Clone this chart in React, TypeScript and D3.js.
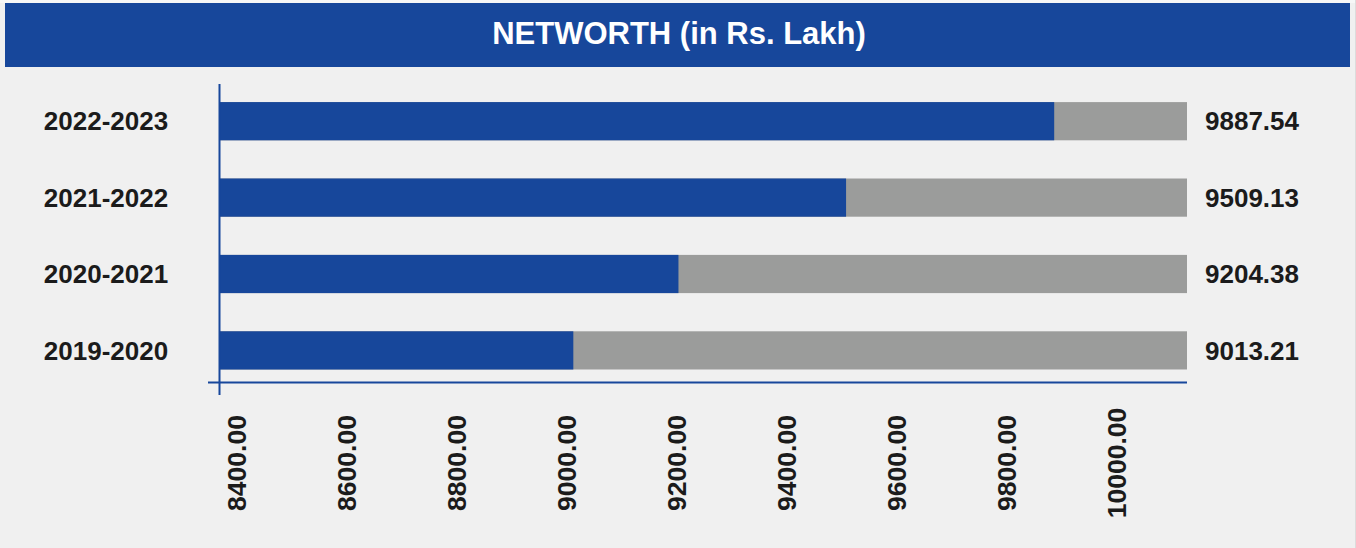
import React from "react";
import * as d3 from "d3";

const categories = ["2022-2023", "2021-2022", "2020-2021", "2019-2020"];
const values = [9887.54, 9509.13, 9204.38, 9013.21];
const tickValues = [8400, 8600, 8800, 9000, 9200, 9400, 9600, 9800, 10000];
const axisMin = 8369;
const axisMax = 10129;
const title = "NETWORTH (in Rs. Lakh)";

const W = 1356;
const H = 548;
const BLUE = "#17479b";
const GRAY = "#9b9c9b";
const BG = "#f0f0f0";
const TEXT = "#1b1b1b";
const FONT = "'Liberation Sans', Arial, sans-serif";

export default function App() {
  const x = d3.scaleLinear().domain([axisMin, axisMax]).range([219, 1187]);
  const y = d3
    .scaleBand<string>()
    .domain(categories)
    .range([83, 388.6])
    .paddingInner(0.5)
    .paddingOuter(0.25);
  const bw = y.bandwidth();
  const fmt = d3.format(".2f");

  return (
    <svg
      width={W}
      height={H}
      style={{ position: "absolute", left: 0, top: 0, display: "block" }}
      fontFamily={FONT}
    >
      <rect x={0} y={0} width={W} height={H} fill={BG} />
      <rect x={0} y={0} width={W} height={3} fill="#f7f7f7" />
      <line x1={1355.5} x2={1355.5} y1={0} y2={H} stroke="#dcdcdc" strokeWidth={1} />
      <rect x={5} y={3} width={1345} height={64} fill={BLUE} />
      <text
        x={679}
        y={43.5}
        textAnchor="middle"
        fontSize={31}
        fontWeight="bold"
        fill="#ffffff"
      >
        {title}
      </text>

      {categories.map((c, i) => {
        const y0 = y(c)!;
        return (
          <g key={c}>
            <rect x={x(axisMin)} y={y0} width={x(axisMax) - x(axisMin)} height={bw} fill={GRAY} />
            <rect x={x(axisMin)} y={y0} width={x(values[i]) - x(axisMin)} height={bw} fill={BLUE} />
            <text
              x={106}
              y={y0 + bw / 2}
              dy="0.35em"
              textAnchor="middle"
              fontSize={26}
              fontWeight="bold"
              fill={TEXT}
            >
              {c}
            </text>
            <text
              x={1252}
              y={y0 + bw / 2}
              dy="0.35em"
              textAnchor="middle"
              fontSize={26}
              fontWeight="bold"
              fill={TEXT}
            >
              {fmt(values[i])}
            </text>
          </g>
        );
      })}

      <line x1={219.5} x2={219.5} y1={84} y2={395} stroke={BLUE} strokeWidth={2} />
      <line x1={208} x2={1187} y1={382.5} y2={382.5} stroke={BLUE} strokeWidth={2} />

      {tickValues.map((t) => (
        <text
          key={t}
          transform={`translate(${x(t)},463) rotate(-90)`}
          dy="0.36em"
          textAnchor="middle"
          fontSize={26.5}
          fontWeight="bold"
          fill={TEXT}
        >
          {fmt(t)}
        </text>
      ))}
    </svg>
  );
}
